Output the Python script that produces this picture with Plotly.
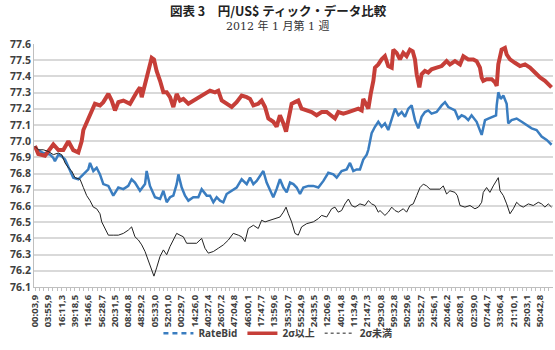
import plotly.graph_objects as go

# x-axis category labels (every 100th tick)
tick_labels = ["00:03,9", "03:55,9", "16:11,3", "39:18,5", "15:46,6", "56:28,7", "20:31,5",
               "08:40,8", "48:29,2", "05:33,0", "52:01,0", "00:29,7", "14:26,0", "40:27,4",
               "26:07,2", "47:04,8", "46:00,1", "17:47,7", "13:59,6", "35:30,7", "55:24,9",
               "24:35,5", "12:06,9", "40:14,8", "11:34,9", "21:47,3", "29:30,8", "59:32,8",
               "50:29,6", "55:52,7", "24:56,1", "20:46,2", "26:08,1", "02:39,0", "07:44,7",
               "33:06,4", "21:10,1", "29:03,1", "50:42,8"]
tick_step = 100

# 2σ以上 (upper band)
red_n = [0, 25, 75, 113, 138, 176, 213, 251, 288, 326, 351, 364, 401, 426, 451, 489, 514, 552, 577,
         602, 627, 665, 715, 765, 790, 803, 828, 853, 878, 895, 915, 941, 966, 991, 1016, 1041, 1066,
         1091, 1116, 1154, 1191, 1241, 1279, 1317, 1354, 1379, 1405, 1442, 1480, 1517, 1555, 1593,
         1618, 1643, 1680, 1705, 1731, 1756, 1793, 1818, 1843, 1869, 1889, 1906, 1931, 1956, 1981,
         2006, 2044, 2082, 2119, 2157, 2195, 2232, 2257, 2282, 2320, 2358, 2395, 2433, 2458, 2470,
         2496, 2508, 2526, 2546, 2558, 2583, 2608, 2633, 2658, 2684, 2696, 2721, 2746, 2771, 2796,
         2821, 2842, 2859, 2872, 2892, 2909, 2934, 2959, 2984, 3022, 3060, 3097, 3122, 3160, 3198,
         3223, 3260, 3298, 3323, 3348, 3361, 3373, 3398, 3436, 3461, 3474, 3486, 3511, 3536, 3549,
         3574, 3611, 3649, 3687, 3724, 3762, 3800, 3837, 3862, 3887]
red_v = [76.97, 76.92, 76.91, 76.95, 76.98, 76.945, 76.945, 77.0, 76.945, 76.93, 77.0, 77.069, 77.14,
         77.19, 77.231, 77.221, 77.241, 77.292, 77.251, 77.19, 77.241, 77.251, 77.231, 77.302, 77.332,
         77.272, 77.353, 77.454, 77.515, 77.505, 77.434, 77.373, 77.302, 77.302, 77.272, 77.211,
         77.292, 77.251, 77.261, 77.231, 77.251, 77.272, 77.292, 77.312, 77.302, 77.312, 77.251,
         77.231, 77.211, 77.241, 77.282, 77.272, 77.261, 77.221, 77.231, 77.251, 77.211, 77.14,
         77.12, 77.09, 77.16, 77.11, 77.059, 77.13, 77.231, 77.241, 77.251, 77.201, 77.19, 77.18,
         77.16, 77.18, 77.18, 77.16, 77.14, 77.18, 77.17, 77.18, 77.19, 77.201, 77.19, 77.261,
         77.221, 77.201, 77.292, 77.373, 77.454, 77.474, 77.505, 77.525, 77.464, 77.454, 77.565,
         77.545, 77.505, 77.545, 77.525, 77.565, 77.555, 77.505, 77.413, 77.332, 77.413, 77.434,
         77.424, 77.444, 77.454, 77.464, 77.494, 77.474, 77.494, 77.474, 77.525, 77.505, 77.505,
         77.494, 77.454, 77.393, 77.373, 77.383, 77.383, 77.363, 77.342, 77.474, 77.565, 77.576,
         77.535, 77.505, 77.484, 77.464, 77.474, 77.454, 77.424, 77.393, 77.373, 77.353, 77.332]

# RateBid
blue_n = [0, 13, 63, 113, 138, 150, 176, 201, 226, 238, 263, 288, 326, 364, 401, 414, 439, 464, 489,
          514, 552, 589, 627, 665, 702, 727, 752, 790, 828, 840, 865, 903, 941, 966, 991, 1016, 1041,
          1066, 1079, 1104, 1129, 1154, 1191, 1229, 1254, 1292, 1317, 1342, 1367, 1392, 1417, 1442,
          1480, 1517, 1555, 1593, 1618, 1643, 1668, 1693, 1718, 1743, 1768, 1793, 1818, 1843, 1869,
          1894, 1919, 1944, 1969, 1994, 2019, 2057, 2094, 2132, 2170, 2207, 2245, 2270, 2307, 2345,
          2370, 2395, 2420, 2445, 2470, 2496, 2508, 2533, 2558, 2583, 2608, 2633, 2658, 2684, 2709,
          2734, 2759, 2784, 2809, 2834, 2859, 2884, 2909, 2934, 2959, 2984, 3022, 3060, 3085, 3110,
          3135, 3160, 3185, 3210, 3235, 3260, 3285, 3323, 3361, 3386, 3411, 3449, 3469, 3474, 3486,
          3504, 3524, 3549, 3561, 3586, 3624, 3662, 3699, 3737, 3774, 3812, 3850, 3887]
blue_v = [76.97, 76.95, 76.927, 76.917, 76.897, 76.876, 76.917, 76.907, 76.887, 76.866, 76.826,
          76.775, 76.765, 76.795, 76.826, 76.866, 76.816, 76.836, 76.795, 76.735, 76.724, 76.664,
          76.714, 76.704, 76.724, 76.765, 76.745, 76.694, 76.735, 76.816, 76.724, 76.654, 76.643,
          76.694, 76.623, 76.654, 76.664, 76.735, 76.795, 76.714, 76.664, 76.633, 76.654, 76.654,
          76.704, 76.664, 76.664, 76.623, 76.654, 76.633, 76.623, 76.674, 76.694, 76.714, 76.765,
          76.735, 76.775, 76.735, 76.755, 76.785, 76.816, 76.745, 76.694, 76.654, 76.704, 76.765,
          76.714, 76.684, 76.745, 76.735, 76.714, 76.674, 76.714, 76.724, 76.724, 76.714, 76.755,
          76.805, 76.795, 76.775, 76.816, 76.826, 76.866, 76.816, 76.826, 76.826, 76.887, 76.917,
          76.947, 77.049, 77.089, 77.12, 77.089, 77.11, 77.069, 77.14, 77.201, 77.16, 77.18, 77.15,
          77.201, 77.221, 77.13, 77.079, 77.15, 77.18, 77.19, 77.17, 77.18, 77.221, 77.241, 77.211,
          77.201, 77.19, 77.14, 77.16, 77.15, 77.13, 77.16, 77.12, 77.039, 77.13, 77.14, 77.15,
          77.16, 77.221, 77.302, 77.261, 77.282, 77.231, 77.11, 77.13, 77.14, 77.12, 77.1, 77.079,
          77.069, 77.029, 77.008, 76.978]

# 2σ未満 (lower band)
black_n = [0, 25, 63, 100, 138, 176, 201, 226, 251, 276, 301, 339, 364, 389, 414, 439, 464, 489, 502,
           527, 552, 589, 627, 665, 702, 727, 752, 778, 803, 828, 853, 878, 895, 915, 941, 966, 991,
           1016, 1041, 1066, 1091, 1116, 1141, 1179, 1216, 1254, 1279, 1304, 1342, 1379, 1417, 1455,
           1492, 1530, 1555, 1580, 1605, 1643, 1680, 1705, 1731, 1768, 1806, 1843, 1869, 1889, 1906,
           1931, 1956, 1981, 2006, 2044, 2094, 2132, 2157, 2195, 2232, 2257, 2282, 2307, 2332, 2358,
           2383, 2408, 2445, 2483, 2508, 2533, 2558, 2583, 2596, 2633, 2658, 2684, 2709, 2734, 2771,
           2796, 2821, 2846, 2872, 2897, 2922, 2947, 2972, 3010, 3047, 3072, 3097, 3122, 3160, 3178,
           3198, 3235, 3273, 3310, 3336, 3361, 3373, 3398, 3423, 3448, 3468, 3486, 3499, 3524, 3549,
           3574, 3599, 3624, 3649, 3674, 3712, 3749, 3787, 3812, 3837, 3862, 3887]
black_v = [76.968, 76.947, 76.947, 76.937, 76.917, 76.927, 76.917, 76.866, 76.836, 76.816, 76.775,
           76.765, 76.714, 76.664, 76.633, 76.593, 76.583, 76.552, 76.502, 76.461, 76.42, 76.42,
           76.42, 76.431, 76.451, 76.471, 76.41, 76.39, 76.36, 76.319, 76.258, 76.208, 76.167,
           76.218, 76.289, 76.329, 76.299, 76.35, 76.39, 76.431, 76.42, 76.41, 76.37, 76.37, 76.37,
           76.4, 76.339, 76.309, 76.319, 76.339, 76.36, 76.39, 76.431, 76.42, 76.41, 76.38, 76.461,
           76.481, 76.461, 76.512, 76.502, 76.512, 76.522, 76.532, 76.562, 76.593, 76.552, 76.502,
           76.431, 76.42, 76.471, 76.491, 76.502, 76.522, 76.542, 76.532, 76.583, 76.593, 76.562,
           76.572, 76.613, 76.643, 76.603, 76.593, 76.613, 76.603, 76.633, 76.613, 76.603, 76.562,
           76.572, 76.542, 76.562, 76.593, 76.572, 76.562, 76.583, 76.562, 76.603, 76.613, 76.664,
           76.714, 76.735, 76.724, 76.704, 76.704, 76.704, 76.724, 76.674, 76.694, 76.684, 76.664,
           76.603, 76.593, 76.603, 76.583, 76.593, 76.623, 76.684, 76.714, 76.684, 76.724, 76.755,
           76.775, 76.694, 76.664, 76.613, 76.552, 76.583, 76.623, 76.603, 76.593, 76.613, 76.603,
           76.623, 76.613, 76.593, 76.613, 76.593]

y_ticks = [76.1, 76.2, 76.3, 76.4, 76.5, 76.6, 76.7, 76.8, 76.9, 77.0, 77.1, 77.2, 77.3, 77.4,
           77.5, 77.6]

BLUE, RED, BLACK = "#3A7DC0", "#C63E38", "#222222"

fig = go.Figure()
# plotted series (legend entries drawn by the style-only traces below)
fig.add_trace(go.Scatter(x=blue_n, y=blue_v, mode="lines", name="RateBid", showlegend=False,
                         line=dict(color=BLUE, width=2.5)))
fig.add_trace(go.Scatter(x=red_n, y=red_v, mode="lines", name="2σ以上", showlegend=False,
                         line=dict(color=RED, width=4)))
fig.add_trace(go.Scatter(x=black_n, y=black_v, mode="lines", name="2σ未満", showlegend=False,
                         line=dict(color=BLACK, width=1)))
# legend keys
fig.add_trace(go.Scatter(x=[None], y=[None], mode="lines", name="RateBid",
                         line=dict(color=BLUE, width=2.5, dash="5px,4px")))
fig.add_trace(go.Scatter(x=[None], y=[None], mode="lines", name="2σ以上",
                         line=dict(color=RED, width=3.5)))
fig.add_trace(go.Scatter(x=[None], y=[None], mode="lines", name="2σ未満",
                         line=dict(color=BLACK, width=1, dash="3px,3px")))

tickvals = [i * tick_step for i in range(len(tick_labels))]

fig.update_layout(
    width=555, height=350,
    margin=dict(l=34, r=2, t=44, b=59),
    paper_bgcolor="white", plot_bgcolor="white",
    font=dict(family="Noto Sans CJK JP, Open Sans, sans-serif", color="#404040"),
    showlegend=True,
    legend=dict(orientation="h", x=0.47, xanchor="center", y=-0.19, yanchor="middle",
                bgcolor="rgba(0,0,0,0)",
                font=dict(size=10, color="#404040", family="Open Sans, Noto Sans CJK JP", weight="bold"),
                itemwidth=30, tracegroupgap=0),
)
fig.layout.annotations = [
    dict(text="<b>図表 3　円/US$ ティック・データ比較</b>", xref="paper", yref="paper",
         x=(278 - 34) / 519, y=1 + (44 - 10) / 247, xanchor="center", yanchor="middle",
         showarrow=False, font=dict(size=12.5, color="#222222",
                                    family="Noto Sans CJK JP")),
    dict(text="2012 年 1 月第 1 週", xref="paper", yref="paper",
         x=(277 - 34) / 519, y=1 + (44 - 26) / 247, xanchor="center", yanchor="middle",
         showarrow=False, font=dict(size=11, color="#333333",
                                    family="DejaVu Serif, Noto Sans CJK JP")),
]

fig.update_xaxes(
    range=[-7.5, 3897.6], tickmode="array", tickvals=tickvals, ticktext=tick_labels,
    tickangle=-90, tickfont=dict(size=9.5, color="#404040", family="Open Sans", weight="bold"),
    showgrid=False, showline=True, linecolor="#BFBFBF", linewidth=1,
    ticks="outside", ticklen=3, tickcolor="#BFBFBF",
    minor=dict(ticks="outside", dtick=100 / 3, tick0=0, ticklen=3, tickcolor="#BFBFBF"),
    zeroline=False, automargin=False,
)
fig.update_yaxes(
    range=[76.1, 77.6], tickmode="array", tickvals=y_ticks,
    ticktext=[f"{v:.1f}" for v in y_ticks],
    tickfont=dict(size=10.5, color="#404040", family="Open Sans", weight="bold"),
    showgrid=True, gridcolor="#D9D9D9", gridwidth=1.5,
    showline=True, linecolor="#BFBFBF", linewidth=1,
    ticks="", zeroline=False, automargin=False,
)

fig.write_html("out.html")
